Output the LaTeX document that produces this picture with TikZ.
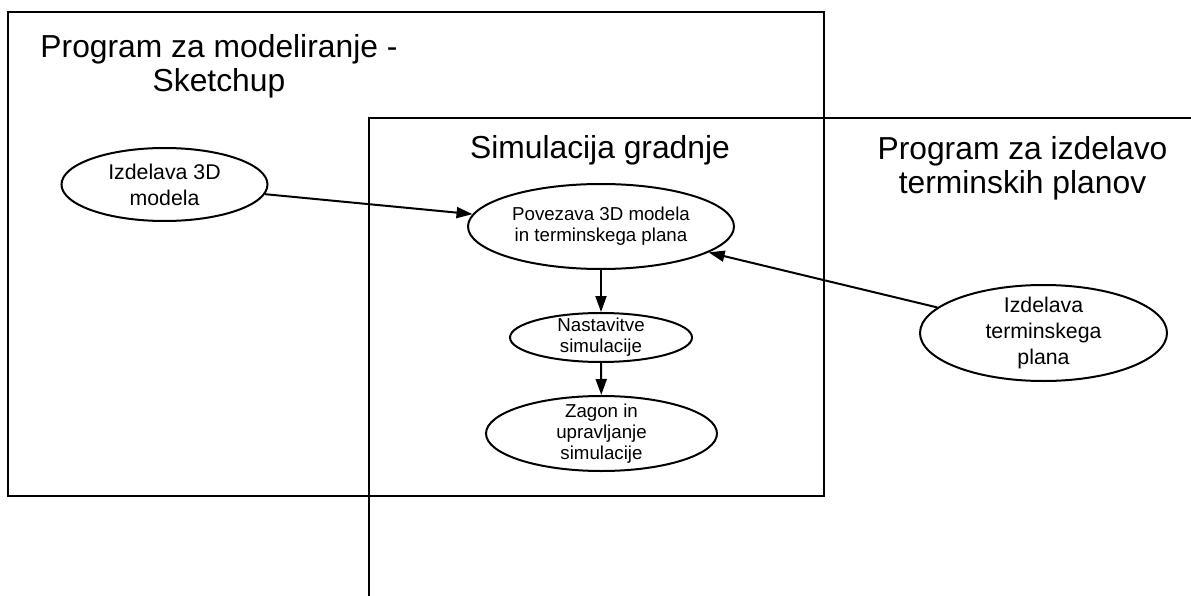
\documentclass[tikz,border=0pt]{standalone}
\usepackage{fontspec}
\setmainfont{Liberation Sans}
\usetikzlibrary{shapes.geometric,arrows.meta}
\begin{document}
\begin{tikzpicture}[x=1pt,y=-1pt,
  frame/.style={line width=2pt,line join=miter},
  stage/.style={ellipse,draw,line width=2pt,fill=white,inner xsep=0pt,inner ysep=-15pt,align=center},
  big/.style={font=\fontsize{31.8}{34}\selectfont},
  mid/.style={font=\fontsize{21.3}{26}\selectfont},
  sml/.style={font=\fontsize{18.7}{21}\selectfont},
  heading/.style={inner sep=0pt,align=center,big},
  flow/.style={line width=2pt,-{Triangle[length=16pt,width=11pt]}}]
\useasboundingbox (0,0) rectangle (1191,596);

% modelling program frame
\draw[frame] (8,12) rectangle (823.5,496);
% scheduling program frame, open to the right and below
\draw[frame] (369,596) -- (369,118) -- (1191,118);

% headings
\node[heading] (hmodel) at (219,66.4) {Program za modeliranje -\\Sketchup};
\node[heading,anchor=base] (hsim) at (600,159) {Simulacija gradnje};
\node[heading] (hplan) at (1022.5,168) {Program za izdelavo\\terminskih planov};

% activities
\node[stage,mid,minimum width=206pt,minimum height=73pt] (e3d) at (164.5,184.5) {Izdelava 3D\\modela};
\node[stage,sml,minimum width=266pt,minimum height=85pt] (pov) at (601,226.5) {Povezava 3D modela\\in terminskega plana};
\node[stage,sml,minimum width=182pt,minimum height=49pt] (nas) at (601,337.5) {Nastavitve\\simulacije};
\node[stage,sml,minimum width=231pt,minimum height=75pt] (zag) at (601.5,433.5) {Zagon in\\upravljanje\\simulacije};
\node[stage,mid,minimum width=247pt,minimum height=96pt] (term) at (1043.5,333) {Izdelava\\terminskega\\plana};

% flow
\draw[flow] (e3d) -- (pov);
\draw[flow] (term) -- (pov);
\draw[flow] (pov) -- (nas);
\draw[flow] (nas) -- (zag);
\end{tikzpicture}
\end{document}
